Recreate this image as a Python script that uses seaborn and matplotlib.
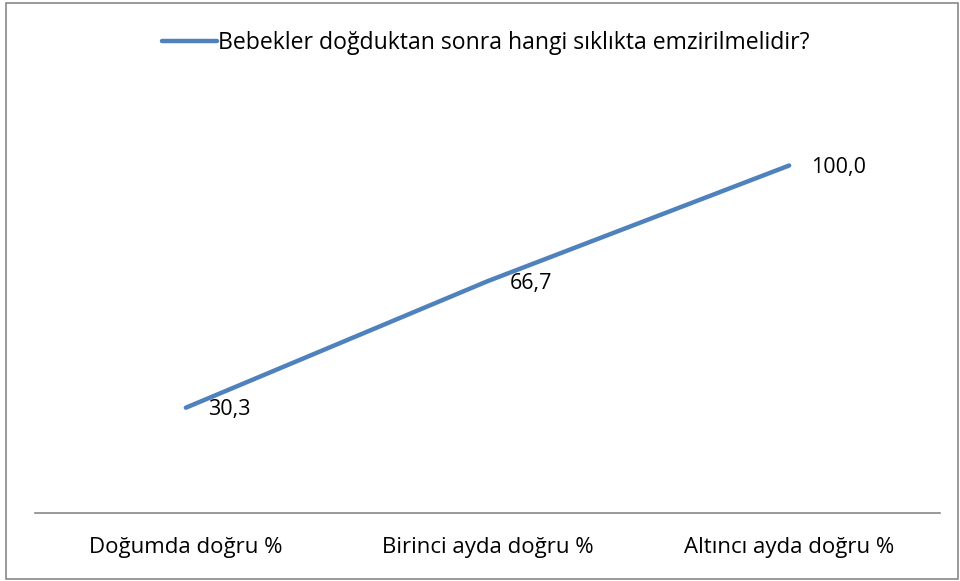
import matplotlib
matplotlib.use("Agg")
import matplotlib.pyplot as plt
import seaborn as sns
import pandas as pd
from matplotlib.patches import Rectangle

categories = ["Doğumda doğru %", "Birinci ayda doğru %", "Altıncı ayda doğru %"]
values = [30.3, 66.7, 100.0]
value_labels = ["30,3", "66,7", "100,0"]
series_name = "Bebekler doğduktan sonra hangi sıklıkta emzirilmelidir?"

sns.set_style("white")
plt.rcParams['font.family'] = ['Open Sans', 'DejaVu Sans']
plt.rcParams['text.color'] = 'black'
plt.rcParams['xtick.color'] = 'black'
plt.rcParams['xtick.labelcolor'] = 'black'

df = pd.DataFrame({"cat": categories, "val": values, "x": range(len(categories))})

fig = plt.figure(figsize=(9.6, 5.81), dpi=100)
ax = fig.add_axes([35/960, 1-513/581, (940-35)/960, (513-96)/581])
sns.lineplot(data=df, x="x", y="val", ax=ax, color="#4F81BD", linewidth=3.2,
             label=series_name, solid_capstyle="round")
ax.set_xlim(-0.5, 2.5)
ax.set_ylim(0, 120)
ax.set_xticks(df["x"])
ax.set_xticklabels(categories, fontsize=16, color="black")
ax.tick_params(axis="x", length=0, pad=17)
ax.set_yticks([])
ax.set_xlabel("")
ax.set_ylabel("")
for s in ["top", "right", "left"]:
    ax.spines[s].set_visible(False)
ax.spines["bottom"].set_color("#898989")
ax.spines["bottom"].set_linewidth(1.2)

for xi, v, t in zip(df["x"], values, value_labels):
    ax.annotate(t, (xi, v), xytext=(16, -1.5), textcoords="offset points",
                ha="left", va="center", fontsize=15.5, color="black")

leg = ax.legend(loc="center", bbox_to_anchor=(486/960, 1-43/581),
                bbox_transform=fig.transFigure, frameon=False, fontsize=16.6,
                handlelength=2.4, handletextpad=0.05)
for txt in leg.get_texts():
    txt.set_color("black")

fig.patches.append(Rectangle((5.5/960, 2.5/581), (958-5.5)/960, (578-2.5)/581,
                             transform=fig.transFigure,
                             fill=False, edgecolor="#898989", linewidth=1.2))
fig.savefig("out.png", dpi=100)
